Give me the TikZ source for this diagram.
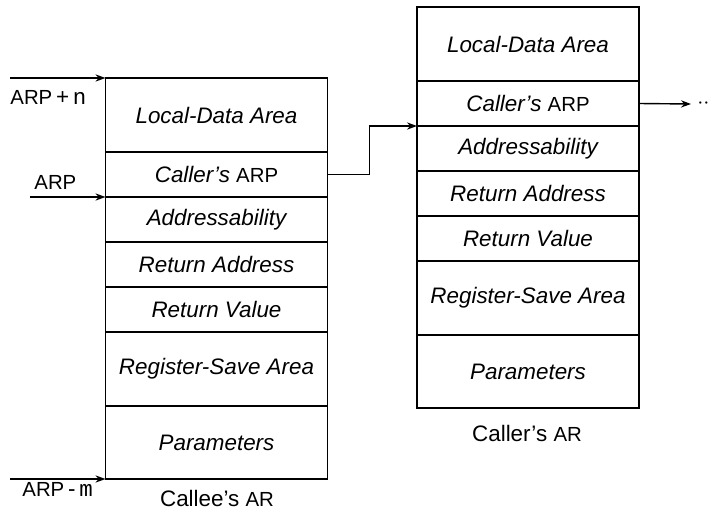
\documentclass[tikz,border=0pt]{standalone}
\usepackage{fontspec}
\setmainfont{Liberation Sans}
\setmonofont{Liberation Mono}
\usetikzlibrary{positioning, arrows.meta}

\newcommand{\smallar}[1]{{\upshape\fontsize{10.2}{12}\selectfont #1}}

\begin{document}
\begin{tikzpicture}[
    x=0.5pt, y=-0.5pt,
    field/.style={
        rectangle, draw, line width=0.7pt, inner sep=0pt, outer sep=0pt,
        minimum width=111pt, minimum height=22.5pt,
        align=center, font=\fontsize{11.2}{13.4}\selectfont\itshape
    },
    tall/.style={field, minimum height=37pt},
    ptr/.style={
        -{Stealth[length=5pt, width=3.6pt]}, line width=0.7pt
    },
    lbl/.style={font=\fontsize{11.2}{13.4}\selectfont, inner sep=1pt}
]
\useasboundingbox (0,0) rectangle (715,514);

% --- callee's activation record ---
\node[tall, anchor=north] (calleeLocal) at (216.5,78) {Local-Data Area};
\node[field, below=0pt of calleeLocal] (calleeLink) {Caller’s \smallar{ARP}};
\node[field, below=0pt of calleeLink]  (calleeAddr) {Addressability};
\node[field, below=0pt of calleeAddr]  (calleeRet)  {Return Address};
\node[field, below=0pt of calleeRet]   (calleeVal)  {Return Value};
\node[tall, below=0pt of calleeVal]    (calleeSave) {Register-Save Area};
\node[tall, below=0pt of calleeSave, minimum height=36.5pt] (calleeParm) {Parameters};
\node[lbl] (calleeName) at (217,498) {Callee’s \smallar{AR}};

% --- caller's activation record ---
\node[tall, anchor=north] (callerLocal) at (528,7) {Local-Data Area};
\node[field, below=0pt of callerLocal] (callerLink) {Caller’s \smallar{ARP}};
\node[field, below=0pt of callerLink]  (callerAddr) {Addressability};
\node[field, below=0pt of callerAddr]  (callerRet)  {Return Address};
\node[field, below=0pt of callerRet]   (callerVal)  {Return Value};
\node[tall, below=0pt of callerVal]    (callerSave) {Register-Save Area};
\node[tall, below=0pt of callerSave, minimum height=36.5pt] (callerParm) {Parameters};
\node[lbl] (callerName) at (527,433) {Caller’s \smallar{AR}};

% --- pointers into the callee's record ---
\coordinate (topIn) at (10,78);
\coordinate (arpIn) at (30,197);
\coordinate (botIn) at (10,479);
\draw[ptr] (topIn) -- (calleeLocal.north west);
\draw[ptr] (arpIn) -- (calleeAddr.north west);
\draw[ptr] (botIn) -- (calleeParm.south west);
\node[lbl, anchor=west] (topLbl) at (8,97) {\smallar{ARP}\,+\,{\ttfamily n}};
\node[lbl, anchor=west] (arpLbl) at (32,182) {\smallar{ARP}};
\node[lbl, anchor=west] (botLbl) at (20,489) {\smallar{ARP}\,-\,{\ttfamily m}};

% --- access links ---
\draw[ptr] (calleeLink.east) -- ++(42,0) |- (callerLink.south west);
\node[lbl, anchor=west, inner sep=0pt] (more) at (697,104) {$\cdot\cdot$};
\draw[ptr] (callerLink.east) -- ([xshift=-3pt]more.west);

\end{tikzpicture}
\end{document}
